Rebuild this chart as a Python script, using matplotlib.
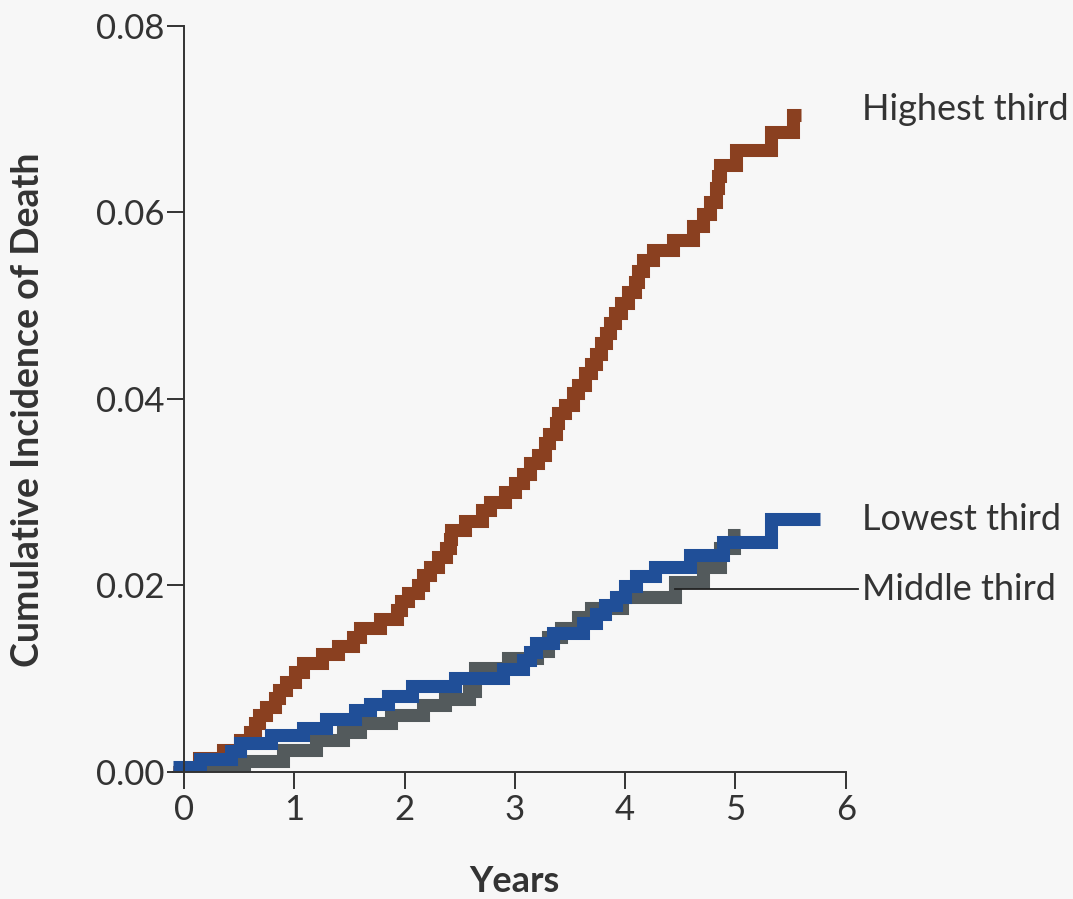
import numpy as np
import matplotlib.pyplot as plt

# step curves: (time in years, cumulative incidence after the step)
high_t = [-0.1, 0.137, 0.355, 0.506, 0.60, 0.642, 0.68, 0.742, 0.823, 0.863, 0.929,
          1.005, 1.08, 1.247, 1.398, 1.534, 1.60, 1.775, 1.927, 1.972, 2.032, 2.123,
          2.169, 2.229, 2.304, 2.38, 2.416, 2.425, 2.546, 2.706, 2.773, 2.909, 2.999,
          3.07, 3.135, 3.211, 3.271, 3.311, 3.377, 3.392, 3.453, 3.528, 3.574, 3.634,
          3.694, 3.74, 3.785, 3.83, 3.861, 3.906, 3.966, 4.027, 4.087, 4.118, 4.163,
          4.254, 4.435, 4.616, 4.707, 4.773, 4.828, 4.843, 4.858, 5.009, 5.326, 5.523, 5.59]
high_v = [0.0, 0.0015, 0.0024, 0.0034, 0.0043, 0.0052, 0.0061, 0.0070, 0.0079, 0.0088, 0.0097,
          0.0107, 0.0117, 0.0126, 0.0135, 0.0145, 0.0154, 0.0164, 0.0174, 0.0183, 0.0192, 0.0201,
          0.0211, 0.0220, 0.0230, 0.0240, 0.0250, 0.0259, 0.0269, 0.0281, 0.0290, 0.0300, 0.0310,
          0.0320, 0.0331, 0.0340, 0.0353, 0.0362, 0.0374, 0.0385, 0.0394, 0.0406, 0.0415, 0.0428,
          0.0438, 0.0448, 0.0460, 0.0471, 0.0481, 0.0492, 0.0503, 0.0515, 0.0525, 0.0537, 0.0549,
          0.0560, 0.0571, 0.0586, 0.0598, 0.0611, 0.0626, 0.0639, 0.0651, 0.0667, 0.0686, 0.0705, 0.0705]

low_t = [-0.1, 0.143, 0.43, 0.506, 0.793, 1.08, 1.29, 1.55, 1.685, 1.851, 2.063, 2.455,
         2.894, 3.075, 3.135, 3.196, 3.347, 3.619, 3.74, 3.815, 3.92, 4.0, 4.10, 4.27,
         4.586, 4.889, 5.326, 5.766]
low_v = [0.0005, 0.0014, 0.0023, 0.0031, 0.0040, 0.0047, 0.0057, 0.0066, 0.0073, 0.0082,
         0.0092, 0.0101, 0.0110, 0.0120, 0.0129, 0.0138, 0.0149, 0.0160, 0.0169, 0.0179,
         0.0188, 0.0199, 0.0210, 0.0220, 0.0233, 0.0247, 0.0271, 0.0271]

mid_t = [-0.1, 0.54, 0.9, 1.2, 1.44, 1.6, 1.88, 2.17, 2.37, 2.58, 2.64, 2.94, 3.2, 3.30,
         3.42, 3.57, 3.69, 3.97, 4.45, 4.707, 4.86, 4.99, 5.04]
mid_v = [0.0, 0.0012, 0.0024, 0.0034, 0.0043, 0.0052, 0.0061, 0.0072, 0.0078, 0.0087,
         0.0112, 0.0122, 0.0130, 0.0145, 0.0154, 0.0166, 0.0176, 0.0188, 0.0204, 0.0220,
         0.0240, 0.0254, 0.0254]

red = '#8a4020'
blue = '#204f98'
gray = '#535a5c'
bg = '#f7f7f7'
txt = '#333333'

plt.rcParams['font.family'] = ['Lato', 'DejaVu Sans']

fig = plt.figure(figsize=(10.73, 8.99), dpi=100, facecolor=bg)
ax = fig.add_axes([0.1612, 0.1413, 0.6270, 0.8298])
ax.set_facecolor(bg)

lw = 9.4
for t, v, c in [(mid_t, mid_v, gray), (high_t, high_v, red), (low_t, low_v, blue)]:
    ax.step(t, v, where='post', color=c, lw=lw, solid_capstyle='butt',
            solid_joinstyle='miter')

# leader line for middle third
ax.plot([4.45, 6.11], [0.0196, 0.0196], color='#222222', lw=1.3, clip_on=False)
ax.text(6.15, high_v[-1] + 0.0005, 'Highest third', fontsize=26, color=txt, va='center', ha='left')
ax.text(6.15, low_v[-1], 'Lowest third', fontsize=26, color=txt, va='center', ha='left')
ax.text(6.15, 0.0196, 'Middle third', fontsize=26, color=txt, va='center', ha='left')

ax.set_xlim(-0.1, 6)
ax.set_ylim(0, 0.08)
for s in ['top', 'right']:
    ax.spines[s].set_visible(False)
ax.spines['left'].set_position(('data', 0))
for s in ['left', 'bottom']:
    ax.spines[s].set_color('#333333')
    ax.spines[s].set_linewidth(1.4)

ax.set_xticks(range(7))
ax.set_yticks([0, 0.02, 0.04, 0.06, 0.08])
ax.set_yticklabels(['0.00', '0.02', '0.04', '0.06', '0.08'])
ax.tick_params(axis='both', direction='out', length=12, width=1.4, color='#333333',
               labelsize=25, labelcolor=txt)
ax.tick_params(axis='y', pad=2)
ax.tick_params(axis='x', pad=4)

ax.set_xlabel('Years', fontsize=26, fontweight='bold', color=txt)
ax.xaxis.set_label_coords(0.508, -0.125)
ax.set_ylabel('Cumulative Incidence of Death', fontsize=27, fontweight='bold', color=txt)
ax.yaxis.set_label_coords(-0.19, 0.485)

fig.savefig('out.png', dpi=100, facecolor=bg)
